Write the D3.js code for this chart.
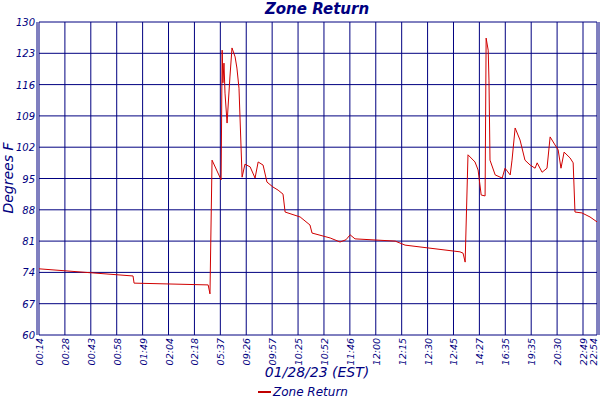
<!DOCTYPE html>
<html><head><meta charset="utf-8">
<script src="https://cdn.jsdelivr.net/npm/d3@7"></script>
<style>body{margin:0;background:#fff}text{font-family:"DejaVu Sans",sans-serif;font-style:italic;fill:#000080}</style>
</head><body><svg id="c" width="600" height="400"></svg>
<script>
const tickLabels=["00:14","00:28","00:43","00:58","01:49","02:04","02:18","05:37","09:26","09:57","10:25","10:52","11:46","12:00","12:15","12:30","12:45","14:27","16:35","19:35","20:30","22:49","22:54"];
const tickPos=[0,1,2,3,4,5,6,7,8,9,10,11,12,13,14,15,16,17,18,19,20,21,21.54];
const yTicks=[60,67,74,81,88,95,102,109,116,123,130];
const xs=[0,3.63,3.67,6.53,6.60,6.68,7.03,7.07,7.10,7.14,7.18,7.26,7.37,7.45,7.57,7.64,7.72,7.80,7.84,7.95,8.15,8.34,8.46,8.65,8.80,9.03,9.23,9.42,9.50,10.08,10.46,10.54,11.24,11.62,11.85,12.01,12.2,13.75,14.13,16.25,16.37,16.45,16.56,16.83,16.95,17.07,17.22,17.26,17.34,17.37,17.41,17.61,17.88,17.99,18.19,18.26,18.38,18.57,18.76,18.96,19.15,19.23,19.42,19.61,19.73,19.92,20.04,20.15,20.27,20.50,20.62,20.69,20.96,21.27,21.54];
const vals=[74.8,73.2,71.6,71.2,69.2,99.1,94.7,123.7,116.4,120.8,114.1,107.4,117.7,124.2,122.2,119.7,115.2,102.0,95.3,98.2,97.6,95.1,98.7,98.0,94.2,93.1,92.4,91.5,87.5,86.4,84.6,82.8,81.7,80.8,81.3,82.4,81.5,81.0,80.1,78.6,78.3,76.3,100.3,98.7,96.9,91.3,91.1,126.4,123.7,117.0,99.1,95.8,95.1,97.3,95.8,99.1,106.3,103.6,99.1,98.0,97.3,98.5,96.4,97.3,104.3,102.5,101.4,97.3,100.9,99.6,98.5,87.5,87.3,86.4,85.3];
const svg=d3.select("#c");
const L=39,R=597,T=22,B=335;
const x=d3.scaleLinear().domain([0,21.54]).range([L,R]);
const y=d3.scaleLinear().domain([60,130]).range([B,T]);
const g=svg.append("g");
yTicks.forEach(v=>g.append("line").attr("x1",L).attr("x2",R).attr("y1",y(v)).attr("y2",y(v)).attr("stroke","#000080"));
tickPos.forEach(p=>g.append("line").attr("x1",x(p)).attr("x2",x(p)).attr("y1",T).attr("y2",B).attr("stroke","#000080"));
g.append("line").attr("x1",L-2).attr("x2",L-2).attr("y1",T).attr("y2",B).attr("stroke","#000080");
g.append("line").attr("x1",R+2).attr("x2",R+2).attr("y1",T).attr("y2",B).attr("stroke","#000080");
yTicks.forEach(v=>svg.append("text").attr("x",L-4).attr("y",y(v)+4).attr("text-anchor","end").attr("font-size",10).text(v));
tickLabels.forEach((t,i)=>svg.append("text").attr("transform",`translate(${Math.min(x(tickPos[i])+4,597)},${B+3}) rotate(-90)`).attr("text-anchor","end").attr("font-size",9.5).text(t));
const pts=xs.map((v,i)=>[v,vals[i]]);
svg.append("path").attr("d",d3.line().x(d=>x(d[0])).y(d=>y(d[1]))(pts)).attr("fill","none").attr("stroke","#d00000").attr("stroke-width",1);
svg.append("text").attr("x",317).attr("y",14).attr("text-anchor","middle").attr("font-size",15).attr("font-weight","bold").text("Zone Return");
svg.append("text").attr("x",317).attr("y",377).attr("text-anchor","middle").attr("font-size",14).text("01/28/23 (EST)");
svg.append("text").attr("transform","translate(13,178) rotate(-90)").attr("text-anchor","middle").attr("font-size",14).text("Degrees F");
svg.append("line").attr("x1",258).attr("x2",271).attr("y1",392).attr("y2",392).attr("stroke","#c00000").attr("stroke-width",2);
svg.append("text").attr("x",273).attr("y",396).attr("font-size",12).text("Zone Return");
</script></body></html>
